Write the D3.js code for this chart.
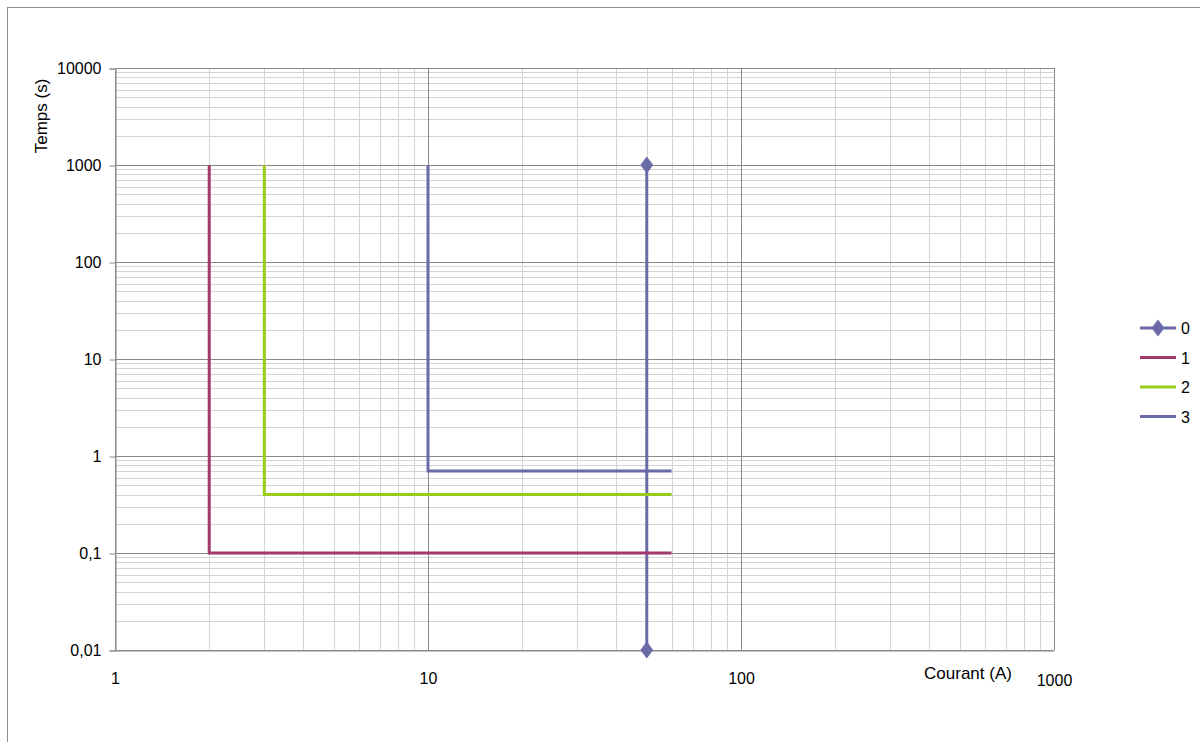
<!DOCTYPE html>
<html><head><meta charset="utf-8">
<script src="https://cdn.jsdelivr.net/npm/d3@7"></script>
<style>body{margin:0;background:#fff}svg{display:block}text{font-family:"Liberation Sans",Arial,sans-serif;fill:#000}</style>
</head><body><svg id="c" width="1200" height="742"></svg>
<script>
const xTicks = [1, 10, 100, 1000];
const yTicks = [0.01, 0.1, 1, 10, 100, 1000, 10000];
const yTickLabels = ["0,01", "0,1", "1", "10", "100", "1000", "10000"];
const seriesNames = ["0", "1", "2", "3"];
const seriesColors = ["#6a6aa6", "#a2396c", "#98cb1c", "#6a6aa6"];
const s0 = [[50, 0.01], [50, 1000]];
const s1 = [[2, 1000], [2, 0.1], [60, 0.1]];
const s2 = [[3, 1000], [3, 0.4], [60, 0.4]];
const s3 = [[10, 1000], [10, 0.7], [60, 0.7]];
const seriesData = [s0, s1, s2, s3];

const svg = d3.select("#c");
svg.append("rect").attr("x", 7.5).attr("y", 7.5).attr("width", 1300).attr("height", 800)
  .attr("fill", "none").attr("stroke", "#8c8c8c").attr("stroke-width", 1);

const L = 115, R = 1054, T = 68, B = 650;
const x = d3.scaleLog().domain([1, 1000]).range([L, R]);
const y = d3.scaleLog().domain([0.01, 10000]).range([B, T]);

const g = svg.append("g");
const minorX = [], minorY = [];
for (let d = 1; d < 1000; d *= 10) for (let k = 2; k <= 9; k++) minorX.push(d * k);
for (let d = 0.01; d < 10000 - 1e-9; d *= 10) for (let k = 2; k <= 9; k++) minorY.push(d * k);
g.selectAll(".mx").data(minorX).enter().append("line")
  .attr("x1", d => Math.round(x(d)) + 0.5).attr("x2", d => Math.round(x(d)) + 0.5)
  .attr("y1", T).attr("y2", B).attr("stroke", "#d4d4d4").attr("stroke-width", 1);
g.selectAll(".my").data(minorY).enter().append("line")
  .attr("y1", d => Math.round(y(d)) + 0.5).attr("y2", d => Math.round(y(d)) + 0.5)
  .attr("x1", L).attr("x2", R).attr("stroke", "#d4d4d4").attr("stroke-width", 1);
g.selectAll(".Mx").data(xTicks).enter().append("line")
  .attr("x1", d => Math.round(x(d)) + 0.5).attr("x2", d => Math.round(x(d)) + 0.5)
  .attr("y1", T).attr("y2", B).attr("stroke", "#8a8a8a").attr("stroke-width", 1);
g.selectAll(".My").data(yTicks).enter().append("line")
  .attr("y1", d => Math.round(y(d)) + 0.5).attr("y2", d => Math.round(y(d)) + 0.5)
  .attr("x1", L).attr("x2", R).attr("stroke", "#8a8a8a").attr("stroke-width", 1);

const FS = 16;
const yAxis = d3.axisLeft(y).tickValues(yTicks).tickFormat((d, i) => yTickLabels[i]).tickSize(6).tickPadding(8);
const ya = svg.append("g").attr("transform", `translate(${L + 0.5},0.5)`).call(yAxis);
ya.select(".domain").attr("stroke", "#8a8a8a");
ya.selectAll(".tick line").attr("stroke", "#8a8a8a");
ya.selectAll("text").attr("font-size", FS).attr("font-family", "Liberation Sans, Arial, sans-serif").attr("fill", "#000");

const xa = svg.append("g").attr("transform", `translate(0,${B + 0.5})`)
  .call(d3.axisBottom(x).tickValues(xTicks).tickFormat(d3.format("d")).tickSize(0).tickPadding(22));
xa.select(".domain").attr("stroke", "#8a8a8a");
xa.selectAll("text").attr("font-size", FS).attr("font-family", "Liberation Sans, Arial, sans-serif").attr("fill", "#000");
xa.selectAll(".tick").filter(d => d === 1000).select("text").attr("dy", "0.85em");

svg.append("text").attr("x", 968).attr("y", 679).attr("text-anchor", "middle").attr("font-size", 17).text("Courant (A)");
svg.append("text").attr("transform", "translate(47,116) rotate(-90)").attr("text-anchor", "middle").attr("font-size", 17).text("Temps (s)");

const line = d3.line().x(d => x(d[0])).y(d => y(d[1]));
seriesData.forEach((s, i) => {
  svg.append("path").attr("d", line(s)).attr("fill", "none").attr("stroke", seriesColors[i]).attr("stroke-width", 3);
});
const diamond = d3.symbol().type(d3.symbolDiamond).size(100);
svg.selectAll(".mk").data(s0).enter().append("path").attr("d", diamond)
  .attr("fill", seriesColors[0]).attr("transform", d => `translate(${x(d[0])},${y(d[1])}) scale(1.2,0.9)`);

const leg = svg.append("g");
seriesNames.forEach((n, i) => {
  const ly = 328 + i * 29.5;
  leg.append("line").attr("x1", 1140).attr("x2", 1176).attr("y1", ly).attr("y2", ly)
    .attr("stroke", seriesColors[i]).attr("stroke-width", 3);
  if (i === 0) leg.append("path").attr("d", diamond).attr("transform", `translate(1158,${ly}) scale(1.2,0.9)`).attr("fill", seriesColors[0]);
  leg.append("text").attr("x", 1181).attr("y", ly + 6).attr("font-size", FS).text(n);
});
</script></body></html>
